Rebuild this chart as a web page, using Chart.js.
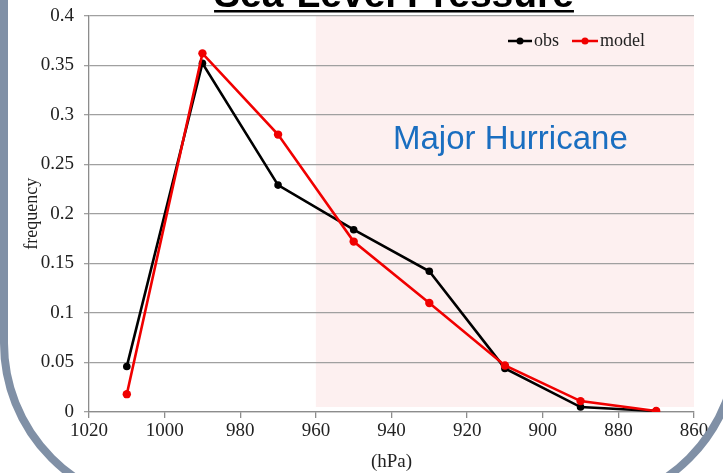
<!DOCTYPE html>
<html><head><meta charset="utf-8">
<script src="https://cdn.jsdelivr.net/npm/chart.js@4.4.1/dist/chart.umd.min.js"></script>
<style>html,body{margin:0;padding:0;background:#fff;overflow:hidden}#wrap{position:relative;width:723px;height:473px}</style>
</head><body><div id="wrap"><canvas id="c" width="723" height="473"></canvas></div>
<script>
const pressure = [1010, 990, 970, 950, 930, 910, 890, 870];
const obsFreq = [0.046, 0.352, 0.229, 0.184, 0.142, 0.044, 0.005, 0.001];
const modelFreq = [0.018, 0.362, 0.280, 0.172, 0.110, 0.047, 0.011, 0.001];
const seriesNames = ['obs', 'model'];
const seriesColors = ['#000000', '#f00000'];
const titleText = 'Sea-Level Pressure';
const regionLabel = 'Major Hurricane';
const regionRange = [960, 860];
const xTitle = '(hPa)';
const yTitle = 'frequency';

const serif = '"Liberation Serif", "Times New Roman", serif';
const sans = '"Liberation Sans", Arial, sans-serif';

const deco = {
  id: 'deco',
  beforeDraw(chart) {
    const ctx = chart.ctx, x = chart.scales.x, y = chart.scales.y;
    ctx.save();
    ctx.fillStyle = '#ffffff';
    ctx.fillRect(0, 0, chart.width, chart.height);
    const x0 = x.getPixelForValue(regionRange[0]), x1 = x.getPixelForValue(regionRange[1]);
    const yTop = y.getPixelForValue(0.4), yBot = y.getPixelForValue(0.005);
    ctx.fillStyle = '#fdf0f0';
    ctx.fillRect(x0, yTop, x1 - x0, yBot - yTop);
    ctx.restore();
  },
  beforeDatasetsDraw(chart) {
    const ctx = chart.ctx;
    ctx.save();
    ctx.fillStyle = '#1a6ec0';
    ctx.font = '33px ' + sans;
    ctx.textAlign = 'left';
    ctx.textBaseline = 'alphabetic';
    ctx.fillText(regionLabel, 393, 149);
    ctx.restore();
  },
  afterDraw(chart) {
    const ctx = chart.ctx;
    ctx.save();
    // legend
    ctx.font = '18px ' + serif;
    ctx.textBaseline = 'middle';
    let lx = 508; const ly = 41;
    chart.data.datasets.forEach((ds, i) => {
      const sw = i === 0 ? 24 : 26;
      ctx.strokeStyle = ds.borderColor; ctx.fillStyle = ds.borderColor;
      ctx.lineWidth = 2.5;
      ctx.beginPath(); ctx.moveTo(lx, ly); ctx.lineTo(lx + sw, ly); ctx.stroke();
      ctx.beginPath(); ctx.arc(lx + sw / 2, ly, 3.5, 0, Math.PI * 2); ctx.fill();
      ctx.fillStyle = '#222';
      ctx.fillText(ds.label, lx + sw + 2, ly);
      lx += sw + 2 + ctx.measureText(ds.label).width + 13;
    });
    // title
    ctx.font = 'bold 39px ' + sans;
    ctx.fillStyle = '#000';
    ctx.textAlign = 'center';
    ctx.textBaseline = 'alphabetic';
    ctx.fillText(titleText, 394, 7);
    const tw = ctx.measureText(titleText).width;
    ctx.fillRect(394 - tw / 2, 10, tw, 2.5);
    // frame
    ctx.strokeStyle = '#8090a6';
    ctx.lineWidth = 8;
    const L = 4, R = 737, B = 506, T = -400, r = 163;
    ctx.beginPath();
    ctx.moveTo(L, T);
    ctx.lineTo(L, B - r);
    ctx.arc(L + r, B - r, r, Math.PI, Math.PI / 2, true);
    ctx.lineTo(R - r, B);
    ctx.arc(R - r, B - r, r, Math.PI / 2, 0, true);
    ctx.lineTo(R, T);
    ctx.stroke();
    ctx.restore();
  }
};

const mk = (vals) => pressure.map((p, i) => ({x: p, y: vals[i]}));

new Chart(document.getElementById('c'), {
  type: 'line',
  data: {
    datasets: [
      {label: seriesNames[0], data: mk(obsFreq), borderColor: seriesColors[0], backgroundColor: seriesColors[0],
       borderWidth: 2.6, pointRadius: 3.8, pointBorderWidth: 0, pointBackgroundColor: seriesColors[0], tension: 0, order: 1},
      {label: seriesNames[1], data: mk(modelFreq), borderColor: seriesColors[1], backgroundColor: seriesColors[1],
       borderWidth: 2.6, pointRadius: 4.2, pointBorderWidth: 0, pointBackgroundColor: seriesColors[1], tension: 0, order: 0}
    ]
  },
  options: {
    responsive: false, animation: false, devicePixelRatio: 1,
    layout: {padding: {top: 14, right: 29, left: 0, bottom: 0}},
    plugins: {legend: {display: false}, tooltip: {enabled: false}},
    scales: {
      x: {
        type: 'linear', reverse: true, min: 860, max: 1020,
        ticks: {stepSize: 20, color: '#222', font: {family: serif, size: 19}, padding: 2, maxRotation: 0, autoSkip: false,
                callback: v => String(v)},
        grid: {drawOnChartArea: false, drawTicks: true, tickLength: 6, color: '#8c8c8c', lineWidth: 1.3},
        border: {color: '#8c8c8c', width: 1.3},
        title: {display: true, text: xTitle, color: '#222', font: {family: serif, size: 19}, padding: {top: 0, bottom: 0}},
        afterFit(s) { s.height = 61; }
      },
      y: {
        min: 0, max: 0.4,
        ticks: {stepSize: 0.05, color: '#222', font: {family: serif, size: 19, lineHeight: 0.6}, padding: 10,
                callback: v => String(+Number(v).toFixed(2))},
        grid: {color: '#a0a0a0', lineWidth: 1.3, tickLength: 5, drawTicks: true},
        border: {color: '#8c8c8c', width: 1.3},
        title: {display: true, text: yTitle, color: '#222', font: {family: serif, size: 18}, padding: {top: 21, bottom: 0}},
        afterFit(s) { s.width = 89; }
      }
    }
  },
  plugins: [deco]
});
</script></body></html>
